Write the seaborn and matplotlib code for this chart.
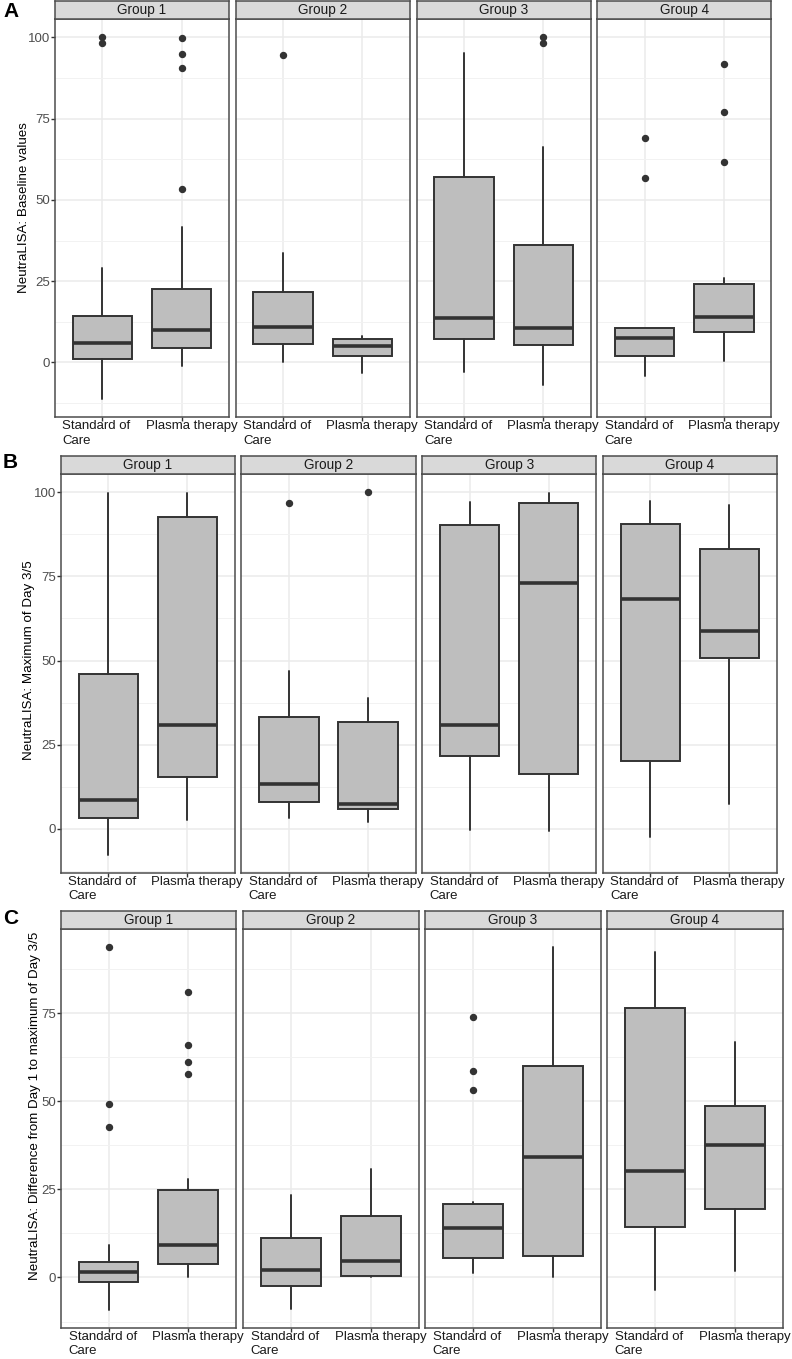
import matplotlib
matplotlib.use("Agg")
import matplotlib.pyplot as plt
import matplotlib.transforms as mtransforms
from matplotlib.ticker import MultipleLocator
import seaborn as sns

groups = ["Group 1", "Group 2", "Group 3", "Group 4"]
arms = ["Standard of\nCare", "Plasma therapy"]

# box stats, order: G1 SoC, G1 PT, G2 SoC, G2 PT, G3 SoC, G3 PT, G4 SoC, G4 PT
# A - baseline values
a_lo = [-11.3, -1.0, 0.2, -3.1, -2.8, -7.0, -4.1, 0.5]
a_q1 = [1.0, 4.6, 5.8, 2.0, 7.1, 5.3, 2.0, 9.4]
a_med = [6.1, 10.0, 11.0, 5.1, 13.8, 10.7, 7.5, 14.1]
a_q3 = [14.3, 22.5, 21.8, 7.1, 57.2, 36.0, 10.6, 24.2]
a_hi = [29.1, 41.7, 33.7, 8.0, 95.1, 66.4, 10.6, 26.1]
a_out = [[100, 98.3], [99.7, 94.9, 90.6, 53.5], [94.5], [], [], [100, 98.3],
         [69.0, 56.8], [91.9, 76.9, 61.8]]

# B - maximum of day 3/5
b_lo = [-7.6, 2.8, 3.4, 2.0, -0.4, -0.7, -2.5, 7.5]
b_q1 = [3.4, 15.3, 8.0, 5.9, 21.7, 16.4, 20.3, 50.8]
b_med = [8.7, 30.8, 13.3, 7.5, 30.8, 73.0, 68.4, 58.8]
b_q3 = [46.1, 92.7, 33.1, 31.9, 90.2, 96.7, 90.4, 83.0]
b_hi = [99.8, 99.6, 46.9, 39.0, 97.2, 99.8, 97.5, 96.2]
b_out = [[], [], [96.9], [100], [], [], [], []]

# C - difference from day 1 to maximum of day 3/5
c_lo = [-9.2, 0.0, -9.0, 0.0, 1.2, 0.0, -3.7, 1.7]
c_q1 = [-1.3, 3.8, -2.5, 0.3, 5.4, 6.2, 14.3, 19.3]
c_med = [1.5, 9.1, 2.2, 4.8, 13.9, 34.2, 30.3, 37.7]
c_q3 = [4.5, 24.7, 11.2, 17.5, 20.8, 60.1, 76.3, 48.5]
c_hi = [9.3, 27.9, 23.3, 30.8, 21.5, 93.6, 92.4, 66.7]
c_out = [[93.6, 49.3, 42.8], [81.0, 65.9, 61.0, 57.6], [], [], [74.0, 58.6, 53.1],
         [], [], []]

sns.set_theme(style="whitegrid")
plt.rcParams['font.family'] = ['Liberation Sans', 'DejaVu Sans']

W, H = 792, 1359
fig = plt.figure(figsize=(W / 100, H / 100), dpi=100)


def px_axes(x0, y0, x1, y1):
    return fig.add_axes([x0 / W, 1 - y1 / H, (x1 - x0) / W, (y1 - y0) / H])


rows = [
    dict(letter="A", ylabel="NeutraLISA: Baseline values",
         lo=a_lo, q1=a_q1, med=a_med, q3=a_q3, hi=a_hi, out=a_out,
         lefts=[55, 235.7, 416.7, 597.3], w=174, st=1, top=19.3, bot=417.3,
         ly=2, yx=24, yy=208),
    dict(letter="B", ylabel="NeutraLISA: Maximum of Day 3/5",
         lo=b_lo, q1=b_q1, med=b_med, q3=b_q3, hi=b_hi, out=b_out,
         lefts=[60.7, 241.3, 422, 602.7], w=174.3, st=455.7, top=474, bot=872.7,
         ly=453, yx=29.5, yy=660),
    dict(letter="C", ylabel="NeutraLISA: Difference from Day 1 to maximum of Day 3/5",
         lo=c_lo, q1=c_q1, med=c_med, q3=c_q3, hi=c_hi, out=c_out,
         lefts=[60.7, 243, 425, 607], w=175.5, st=911, top=929.3, bot=1328,
         ly=909, yx=35, yy=1106),
]

dark = '#333333'
# left edge of each x label relative to its tick, in pixels
label_shift = [-40, -36]

for r in rows:
    vals = r['lo'] + r['hi'] + [v for o in r['out'] for v in o]
    vmin, vmax = min(vals), max(vals)
    pad = 0.05 * (vmax - vmin)
    for g, name in enumerate(groups):
        x0 = r['lefts'][g]
        ax = px_axes(x0, r['top'], x0 + r['w'], r['bot'])
        stats = []
        for i in (2 * g, 2 * g + 1):
            stats.append(dict(whislo=r['lo'][i], q1=r['q1'][i], med=r['med'][i],
                              q3=r['q3'][i], whishi=r['hi'][i], fliers=r['out'][i]))
        ax.bxp(stats, positions=[1, 2], widths=0.75, patch_artist=True, showcaps=False,
               boxprops=dict(facecolor='#bebebe', edgecolor=dark, linewidth=1.4),
               whiskerprops=dict(color=dark, linewidth=1.4),
               medianprops=dict(color=dark, linewidth=2.6, solid_capstyle='butt'),
               flierprops=dict(marker='o', markerfacecolor=dark, markeredgecolor=dark,
                               markersize=4.3))
        ax.set_xlim(0.4, 2.6)
        ax.set_ylim(vmin - pad, vmax + pad)
        ax.set_facecolor('white')
        ax.set_xticks([1, 2])
        ax.set_xticklabels([])
        ax.yaxis.set_major_locator(MultipleLocator(25))
        ax.yaxis.set_minor_locator(MultipleLocator(12.5))
        ax.set_axisbelow(True)
        ax.grid(which='major', color='#ebebeb', linewidth=1.1)
        ax.grid(which='minor', axis='y', color='#f2f2f2', linewidth=0.7)
        for s in ax.spines.values():
            s.set_visible(True)
            s.set_color('#4d4d4d')
            s.set_linewidth(1.1)
        ax.tick_params(axis='both', which='major', bottom=True, left=(g == 0),
                       labelleft=(g == 0), length=3, width=1, color=dark,
                       labelsize=9.5, labelcolor='#4d4d4d', pad=0.5)
        ax.tick_params(which='minor', length=0)

        # x labels, left-aligned a bit left of each tick like the original
        for k, lab in enumerate(arms):
            tr = ax.get_xaxis_transform() + mtransforms.ScaledTranslation(
                label_shift[k] / 100, -3 / 100, fig.dpi_scale_trans)
            ax.text(k + 1, 0, lab, transform=tr, ha='left', va='top', fontsize=9.5,
                    color='#1a1a1a', linespacing=1.25, clip_on=False)

        # facet strip
        sax = px_axes(x0, r['st'], x0 + r['w'], r['top'])
        sax.set_facecolor('#d9d9d9')
        sax.set_xticks([])
        sax.set_yticks([])
        sax.grid(False)
        for s in sax.spines.values():
            s.set_visible(True)
            s.set_color('#4d4d4d')
            s.set_linewidth(1.1)
        sax.text(0.5, 0.5, name, ha='center', va='center', fontsize=9.8,
                 color='#1a1a1a', transform=sax.transAxes)

    fig.text(3 / W, 1 - r['ly'] / H, r['letter'], fontsize=15, fontweight='bold',
             ha='left', va='top', color='black')
    fig.text(r['yx'] / W, 1 - r['yy'] / H, r['ylabel'], rotation=90, fontsize=9.6,
             ha='center', va='center', color='black')

fig.savefig('out.png', dpi=100, facecolor='white')
